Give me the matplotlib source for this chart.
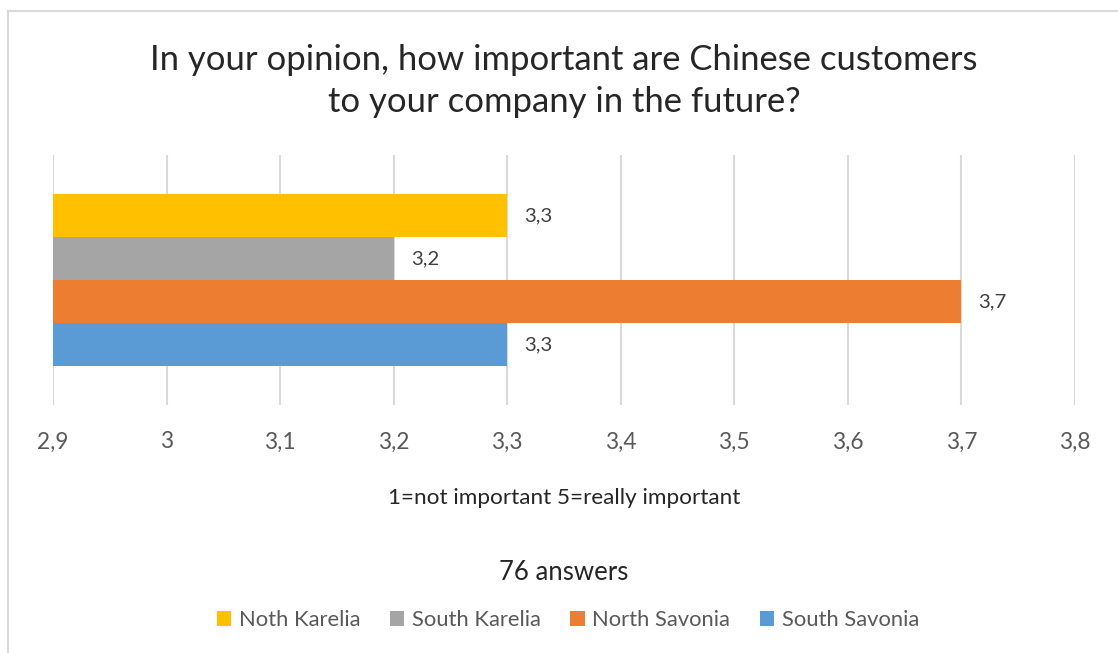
import matplotlib.pyplot as plt
from matplotlib.patches import Patch
from matplotlib.ticker import FuncFormatter

plt.rcParams['font.family'] = ['Lato', 'DejaVu Sans']

# Data
regions = ['Noth Karelia', 'South Karelia', 'North Savonia', 'South Savonia']
scores = [3.3, 3.2, 3.7, 3.3]
colors = ['#FFC000', '#A5A5A5', '#ED7D31', '#5B9BD5']
x_ticks = [2.9, 3.0, 3.1, 3.2, 3.3, 3.4, 3.5, 3.6, 3.7, 3.8]

W, H = 1118, 653
fig = plt.figure(figsize=(W / 100, H / 100), dpi=100)

# chart frame (only top and left are inside the picture)
fig.add_artist(plt.Line2D([8 / W, 8 / W], [0, 1 - 11 / H], color='#D9D9D9', lw=1.5))
fig.add_artist(plt.Line2D([8 / W, 1], [1 - 11 / H, 1 - 11 / H], color='#D9D9D9', lw=1.5))

ax = fig.add_axes([53 / W, 1 - 405 / H, (1075 - 53) / W, (405 - 155) / H])

ypos = list(range(len(regions)))[::-1]
base = x_ticks[0]
for y, v, c in zip(ypos, scores, colors):
    ax.barh(y, v - base, left=base, height=1.0, color=c)
    ax.text(v + 0.015, y, f'{v:.1f}'.replace('.', ','), va='center', ha='left',
            fontsize=14.7, color='#404040')

pad = 0.907
ax.set_ylim(-0.5 - pad, 3.5 + pad)
ax.set_xlim(x_ticks[0], x_ticks[-1])
ax.set_xticks(x_ticks)
ax.xaxis.set_major_formatter(FuncFormatter(lambda v, p: f'{v:.1f}'.replace('.', ',').replace(',0', '')))
ax.set_yticks([])
ax.grid(axis='x', color='#D9D9D9', lw=1.5)
ax.set_axisbelow(True)
for s in ax.spines.values():
    s.set_visible(False)
ax.tick_params(axis='x', length=0, pad=19, labelsize=16.3, labelcolor='#595959')

fig.text(564 / W, 1 - 81 / H, 'In your opinion, how important are Chinese customers\nto your company in the future?',
         ha='center', va='center', fontsize=24.9, color='#262626', linespacing=1.42)
fig.text(564 / W, 1 - 498 / H, '1=not important 5=really important', ha='center', va='center',
         fontsize=16.2, color='#262626')
fig.text(564 / W, 1 - 572 / H, '76 answers', ha='center', va='center', fontsize=18.5, color='#262626')

handles = [Patch(facecolor=c, label=r) for r, c in zip(regions, colors)]
fig.legend(handles=handles, loc='center', bbox_to_anchor=(568 / W, 1 - 620 / H), ncol=4,
           frameon=False, fontsize=15.8, labelcolor='#595959', handlelength=0.65, handleheight=0.65,
           handletextpad=0.35, columnspacing=1.35)

fig.savefig('out.png', dpi=100, facecolor='white')
